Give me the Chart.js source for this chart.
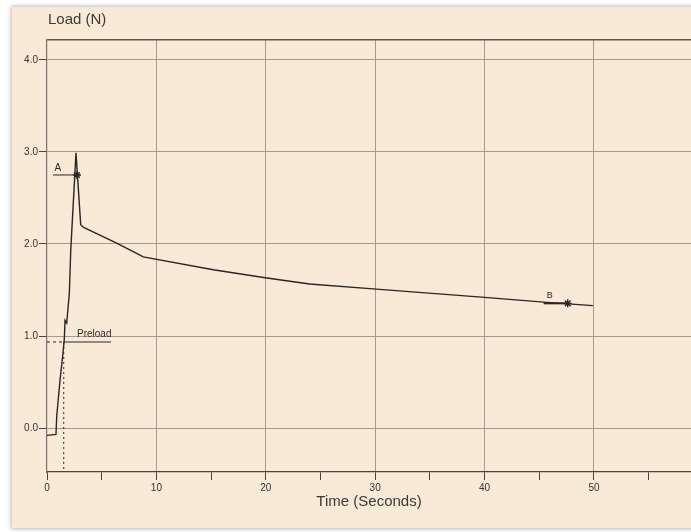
<!DOCTYPE html>
<html><head><meta charset="utf-8">
<script src="https://cdn.jsdelivr.net/npm/chart.js@4.4.1/dist/chart.umd.min.js"></script>
<style>
html,body{margin:0;padding:0;background:#fff;}
#wrap{position:relative;width:691px;height:532px;overflow:hidden;}
#panel{position:absolute;left:12px;top:7px;width:700px;height:521px;background:#f9e9d7;box-shadow:0 0 4px 1px rgba(0,0,0,0.28);}
canvas{position:absolute;left:0;top:0;}
</style></head><body>
<div id="wrap"><div id="panel"></div><canvas id="c" width="691" height="532"></canvas></div>
<script>
// Series: load curve
const timeSec = [0, 0.82, 0.89, 1.19, 1.43, 1.58, 1.65, 1.8, 2.04, 2.17, 2.65, 3.08, 3.35, 6.37, 8.5, 8.8, 15.2, 20.1, 24.0, 30.1, 40.0, 45.7, 49.9];
const loadN   = [-0.08, -0.07, 0.13, 0.52, 0.78, 0.96, 1.17, 1.14, 1.46, 1.93, 2.99, 2.21, 2.18, 2.01, 1.88, 1.86, 1.72, 1.63, 1.565, 1.51, 1.42, 1.366, 1.33];

// Axis settings / ticks
const xRange = [0, 58.87];
const yRange = [-0.478, 4.217];
const xTickValues = [0, 5, 10, 15, 20, 25, 30, 35, 40, 45, 50, 55];
const xLabelledTicks = [0, 10, 20, 30, 40, 50];
const yTickValues = [0, 1, 2, 3, 4];

// Markers (A, Preload, B)
const markerA = {time: 2.74, load: 2.75, lineFrom: 0.55, lineTo: 3.0};
const preload = {time: 1.53, load: 0.935, lineTo: 5.85};
const markerB = {time: 47.6, load: 1.355, lineFrom: 45.4};

// Annotation texts
const noteText = ['A', 'Preload', 'B'];
const noteTime = [0.98, 4.32, 45.96];
const noteLoad = [2.82, 1.014, 1.435];

const yTitle = 'Load (N)';
const xTitle = 'Time (Seconds)';

const ink = '#2c2824';
const gridCol = '#a39b90';

const notesPlugin = {
  id: 'notes',
  afterDatasetsDraw(chart) {
    const {ctx, scales: {x, y}} = chart;
    ctx.save();
    ctx.fillStyle = '#2e2a26';
    ctx.textAlign = 'center';
    ctx.textBaseline = 'middle';
    noteText.forEach((t, i) => {
      ctx.font = (t === 'B' ? '9px' : '10px') + ' "Liberation Sans", Arial, sans-serif';
      ctx.fillText(t, x.getPixelForValue(noteTime[i]), y.getPixelForValue(noteLoad[i]));
    });
    ctx.font = '15px "Liberation Sans", Arial, sans-serif';
    ctx.fillStyle = '#3a3a3a';
    ctx.textAlign = 'left';
    ctx.fillText(yTitle, chart.chartArea.left + 1, 20);
    ctx.restore();
  }
};

const pts = (xs, ys) => xs.map((v, i) => ({x: v, y: ys[i]}));
const seg = (o) => Object.assign({showLine: true, pointRadius: 0, borderColor: ink, borderWidth: 1, fill: false}, o);

new Chart(document.getElementById('c'), {
  type: 'scatter',
  data: {
    datasets: [
      seg({data: pts(timeSec, loadN), borderWidth: 1.4, borderColor: '#2a2622'}),
      seg({data: [{x: markerA.lineFrom, y: markerA.load}, {x: markerA.lineTo, y: markerA.load}]}),
      seg({data: [{x: preload.time, y: preload.load}, {x: preload.lineTo, y: preload.load}]}),
      seg({data: [{x: xRange[0], y: preload.load}, {x: preload.time, y: preload.load}], borderDash: [3, 3]}),
      seg({data: [{x: preload.time, y: preload.load}, {x: preload.time, y: yRange[0]}], borderDash: [2, 3]}),
      seg({data: [{x: markerB.lineFrom, y: markerB.load}, {x: markerB.time, y: markerB.load}], borderWidth: 2}),
      {data: [{x: markerA.time, y: markerA.load}, {x: markerB.time, y: markerB.load}], showLine: false,
       pointStyle: 'star', pointRadius: 4, borderColor: ink, backgroundColor: ink, borderWidth: 1.4}
    ]
  },
  options: {
    responsive: false,
    animation: false,
    devicePixelRatio: 1,
    layout: {autoPadding: false, padding: {top: 40, left: 0, right: 0, bottom: 0}},
    plugins: {legend: {display: false}, tooltip: {enabled: false}, title: {display: false}},
    scales: {
      x: {
        type: 'linear', min: xRange[0], max: xRange[1],
        afterBuildTicks: s => { s.ticks = xTickValues.map(v => ({value: v})); },
        afterFit: s => { s.height = 60; },
        ticks: {
          autoSkip: false, maxRotation: 0, padding: 2, color: '#333',
          font: {family: '"Liberation Sans Narrow", "Liberation Sans", Arial', size: 10},
          callback: v => xLabelledTicks.includes(v) ? String(v) : ''
        },
        grid: {
          color: c => (c.tick && xLabelledTicks.includes(c.tick.value) && c.tick.value !== 0) ? gridCol : 'rgba(0,0,0,0)',
          tickColor: '#4a443e', tickLength: 8, lineWidth: 1
        },
        border: {color: '#4a443e', width: 1.3},
        title: {display: true, text: xTitle, color: '#3a3a3a', font: {family: '"Liberation Sans", Arial', size: 15}, padding: {top: 4, bottom: 21}}
      },
      y: {
        type: 'linear', min: yRange[0], max: yRange[1],
        afterBuildTicks: s => { s.ticks = yTickValues.concat([yRange[1]]).map(v => ({value: v})); },
        afterFit: s => { s.width = 47; },
        ticks: {
          autoSkip: false, padding: 1, color: '#333',
          font: {family: '"Liberation Sans", Arial', size: 10},
          callback: v => yTickValues.includes(v) ? v.toFixed(1) : ''
        },
        grid: {
          color: c => (c.tick && c.tick.value > 4.1) ? '#5e574f' : gridCol,
          lineWidth: c => (c.tick && c.tick.value > 4.1) ? 1.6 : 1,
          tickColor: c => (c.tick && c.tick.value > 4.1) ? 'rgba(0,0,0,0)' : '#4a443e',
          tickLength: 8
        },
        border: {color: '#7a7269', width: 1.2}
      }
    }
  },
  plugins: [notesPlugin]
});
</script>
</body></html>
